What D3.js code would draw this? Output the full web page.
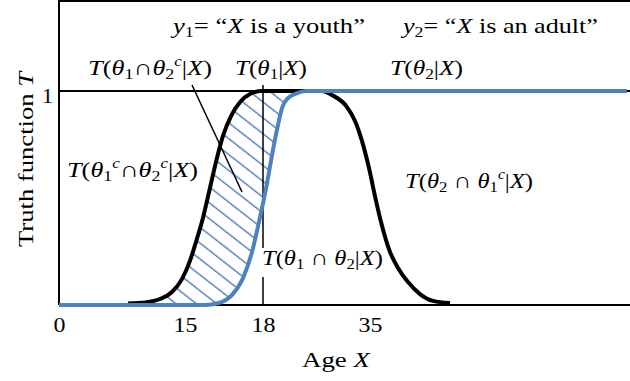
<!DOCTYPE html>
<html><head><meta charset="utf-8">
<script src="https://cdn.jsdelivr.net/npm/d3@7"></script>
<style>
html,body{margin:0;padding:0;background:#fff;}
svg{display:block;}
text{font-family:"Liberation Serif","Times New Roman",serif;font-size:22px;fill:#000;}
</style>
</head><body><svg id="c" width="630" height="381"></svg>
<script>
// ---------------- data ----------------
const tickAges   = [0, 15, 18, 35];
const tickLabels = ["0", "15", "18", "35"];
const truthTicks = [1];
const truthTickLabels = ["1"];

// T(θ1|X) : y1 = "X is a youth"  (black curve)
const youthAge = [8.21, 10.24, 12.02, 13.45, 14.64, 15.19, 15.42, 15.69, 15.96, 16.23, 16.46, 16.77, 17.12, 17.5, 17.96,
                  27.37, 28.96, 31.35, 32.62, 33.73, 34.84, 35.79, 36.75, 38.18, 39.45, 41.04, 42.94, 45.01, 47.71];
const youthT   = [0.007, 0.012, 0.028, 0.061, 0.121, 0.206, 0.294, 0.407, 0.547, 0.687, 0.790, 0.883, 0.949, 0.986, 1,
                  1, 0.981, 0.925, 0.860, 0.766, 0.640, 0.509, 0.388, 0.248, 0.173, 0.107, 0.051, 0.019, 0.009];

// T(θ2|X) : y2 = "X is an adult"  (blue curve)
const adultAge = [0, 15.77, 16.27, 16.81, 17.23, 17.58, 17.88, 18.64, 19.43, 20.38, 21.02, 21.97, 23.24, 24.83, 75.8];
const adultT   = [0, 0, 0.008, 0.047, 0.125, 0.249, 0.407, 0.570, 0.700, 0.841, 0.920, 0.967, 0.988, 1, 1];

const axisTitleX = [["Age ", ""], ["X", "i"]];
const axisTitleY = [["Truth function ", ""], ["T", "i"]];

// ---------------- layout ----------------
const W = 630, H = 381;
const x = d3.scaleLinear().domain(tickAges).range([59, 185, 263, 370]); // schematic (non-uniform) age axis
const y = d3.scaleLinear().domain([0, 1]).range([305, 91]);
const BLUE = "#4f81bd";

const svg = d3.select("#c");

const youth = youthAge.map((a, i) => [a, youthT[i]]);
const adult = adultAge.map((a, i) => [a, adultT[i]]);

const line = d3.line().x(d => x(d[0])).y(d => y(d[1])).curve(d3.curveMonotoneX);
const area = d3.area().x(d => x(d[0])).y0(y(0)).y1(d => y(d[1])).curve(d3.curveMonotoneX);

// hatch pattern + mask (region where T(θ1|X) > T(θ2|X))
const defs = svg.append("defs");
const pat = defs.append("pattern").attr("id", "hatch").attr("patternUnits", "userSpaceOnUse")
  .attr("width", 40).attr("height", 12.5).attr("patternTransform", "rotate(38)");
pat.append("line").attr("x1", -5).attr("x2", 45).attr("y1", 6).attr("y2", 6)
  .attr("stroke", BLUE).attr("stroke-width", 1.5);
const mask = defs.append("mask").attr("id", "between");
mask.append("path").attr("d", area(youth)).attr("fill", "#fff");
mask.append("path").attr("d", area(adult)).attr("fill", "#000");

svg.append("rect").attr("x", 59).attr("y", 91).attr("width", W - 59).attr("height", 214)
  .attr("fill", "url(#hatch)").attr("mask", "url(#between)");

// frame
const frame = svg.append("g").attr("stroke", "#000").attr("stroke-width", 2);
frame.append("line").attr("x1", 59).attr("x2", W).attr("y1", 1).attr("y2", 1);
frame.append("line").attr("x1", 59).attr("x2", 59).attr("y1", 0).attr("y2", y(0));
frame.append("line").attr("x1", 59).attr("x2", W).attr("y1", y(0)).attr("y2", y(0));
frame.append("line").attr("x1", 59).attr("x2", W).attr("y1", y(1)).attr("y2", y(1));

// vertical line at age 18 (interrupted by label) and leader line
const thin = svg.append("g").attr("stroke", "#000").attr("stroke-width", 1.5);
thin.append("line").attr("x1", x(18)).attr("x2", x(18)).attr("y1", 85).attr("y2", 248);
thin.append("line").attr("x1", x(18)).attr("x2", x(18)).attr("y1", 277).attr("y2", y(0));
thin.append("line").attr("x1", 192).attr("y1", 85).attr("x2", 242).attr("y2", 192);

// curves
svg.append("path").attr("d", line(youth)).attr("fill", "none").attr("stroke", "#000")
  .attr("stroke-width", 4).attr("stroke-linejoin", "round");
svg.append("path").attr("d", line(adult)).attr("fill", "none").attr("stroke", BLUE)
  .attr("stroke-width", 4).attr("stroke-linejoin", "round");

// axes
const xa = svg.append("g").attr("transform", `translate(0,${y(0)})`)
  .call(d3.axisBottom(x).tickValues(tickAges).tickFormat((d, i) => tickLabels[i]).tickSize(0).tickPadding(11));
xa.select(".domain").remove();
xa.attr("font-family", null).attr("font-size", null);
xa.selectAll("text").attr("fill", "#000").attr("transform", "scale(1.09,1)");

const ya = svg.append("g").attr("transform", "translate(59,0)")
  .call(d3.axisLeft(y).tickValues(truthTicks).tickFormat((d, i) => truthTickLabels[i]).tickSize(0).tickPadding(6));
ya.select(".domain").remove();
ya.attr("font-family", null).attr("font-size", null);
ya.selectAll("text").attr("fill", "#000").attr("dy", "0.5em");

// rich text helper (italic, sub, sup), stretched to the width seen in the reference
function rich(segs, x0, yb, width, rotate) {
  const t = svg.append("text").attr("x", 0).attr("y", 0);
  let shift = 0;
  segs.forEach(([s, st]) => {
    const ts = t.append("tspan").text(s);
    let target = 0;
    if (st.includes("sub")) { ts.attr("font-size", 15); target = 4; }
    else if (st.includes("sup")) { ts.attr("font-size", 14); target = -9; }
    if (st.includes("i")) ts.attr("font-style", "italic");
    const dy = target - shift;
    if (dy) ts.attr("dy", dy);
    shift = target;
  });
  const w = t.node().getComputedTextLength();
  const s = width / w;
  if (rotate) {
    t.attr("text-anchor", "middle");
    t.attr("transform", `translate(${x0},${yb}) rotate(-90) scale(${s},1)`);
  } else {
    t.attr("transform", `translate(${x0},${yb}) scale(${s},1)`);
  }
  return t;
}

rich([["y","i"],["1","sub"],["= “",""],["X","i"],[" is a youth”",""]], 173, 33, 192);
rich([["y","i"],["2","sub"],["= “",""],["X","i"],[" is an adult”",""]], 403, 33, 195);
rich([["T","i"],["(",""],["θ","i"],["1","sub"],["∩",""],["θ","i"],["2","sub"],["c","isup"],["|",""],["X","i"],[")",""]], 88, 75, 124);
rich([["T","i"],["(",""],["θ","i"],["1","sub"],["|",""],["X","i"],[")",""]], 235, 75, 72);
rich([["T","i"],["(",""],["θ","i"],["2","sub"],["|",""],["X","i"],[")",""]], 390, 75, 73);
rich([["T","i"],["(",""],["θ","i"],["1","sub"],["c","isup"],["∩",""],["θ","i"],["2","sub"],["c","isup"],["|",""],["X","i"],[")",""]], 67, 177, 131);
rich([["T","i"],["(",""],["θ","i"],["2","sub"],[" ∩ ",""],["θ","i"],["1","sub"],["c","isup"],["|",""],["X","i"],[")",""]], 405, 188, 128);
rich([["T","i"],["(",""],["θ","i"],["1","sub"],[" ∩ ",""],["θ","i"],["2","sub"],["|",""],["X","i"],[")",""]], 262, 265, 121);
rich(axisTitleX, 302, 367, 68);
rich(axisTitleY, 33, 159.5, 175, true);
</script>
</body></html>
